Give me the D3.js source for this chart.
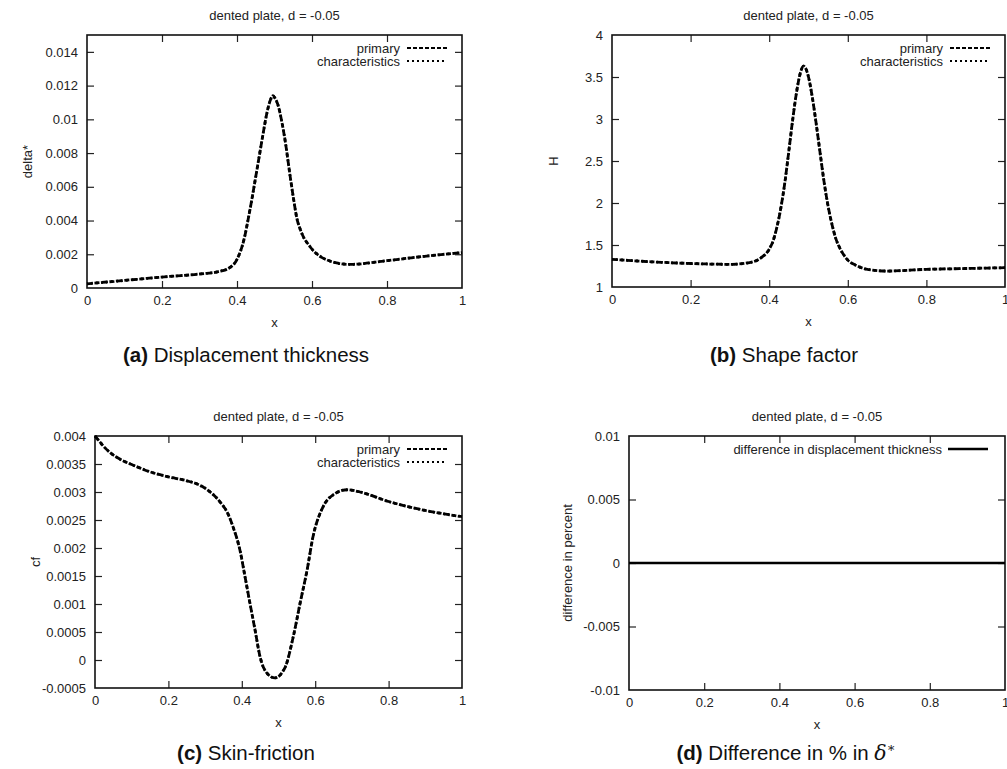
<!DOCTYPE html>
<html>
<head>
<meta charset="utf-8">
<script src="https://cdn.jsdelivr.net/npm/d3@7"></script>
<style>
  body { margin: 0; background: #fff; }
  svg { font-family: "Liberation Sans", Arial, sans-serif; }
</style>
</head>
<body>
<script>

// ---- data ----
var xTicks = [0, 0.2, 0.4, 0.6, 0.8, 1];
var deltaTicks = [0, 0.002, 0.004, 0.006, 0.008, 0.01, 0.012, 0.014];
var hTicks = [1, 1.5, 2, 2.5, 3, 3.5, 4];
var cfTicks = [-0.0005, 0, 0.0005, 0.001, 0.0015, 0.002, 0.0025, 0.003, 0.0035, 0.004];
var diffTicks = [-0.01, -0.005, 0, 0.005, 0.01];

var deltaX = [0, 0.1, 0.2, 0.3, 0.35, 0.38, 0.4, 0.42, 0.43, 0.44, 0.45, 0.46, 0.47, 0.48, 0.49, 0.496,
              0.5, 0.51, 0.52, 0.53, 0.54, 0.55, 0.56, 0.57, 0.58, 0.59, 0.6, 0.62, 0.65, 0.68, 0.7, 0.8, 0.9, 1.0];
var deltaY = [0.00025, 0.00045, 0.00065, 0.00083, 0.00097, 0.0012, 0.0017, 0.0030, 0.0041, 0.0053, 0.0066, 0.0079, 0.0092, 0.0104, 0.0112, 0.0114,
              0.0113, 0.0108, 0.0098, 0.0085, 0.0069, 0.0054, 0.0041, 0.0034, 0.0029, 0.0026, 0.0023, 0.0019, 0.00158, 0.00143, 0.0014, 0.00162, 0.00188, 0.0021];

var hX = [0, 0.1, 0.2, 0.3, 0.35, 0.38, 0.4, 0.41, 0.42, 0.43, 0.44, 0.45, 0.46, 0.47, 0.48, 0.487, 0.495,
          0.5, 0.51, 0.52, 0.53, 0.54, 0.55, 0.56, 0.57, 0.58, 0.59, 0.6, 0.62, 0.65, 0.7, 0.8, 0.9, 1.0];
var hY = [1.33, 1.30, 1.28, 1.27, 1.29, 1.35, 1.45, 1.55, 1.72, 1.95, 2.25, 2.62, 3.0, 3.33, 3.56, 3.63, 3.58,
          3.5, 3.25, 2.93, 2.58, 2.24, 1.96, 1.74, 1.57, 1.46, 1.38, 1.32, 1.26, 1.21, 1.19, 1.21, 1.22, 1.23];

var cfX = [0, 0.01, 0.02, 0.04, 0.07, 0.1, 0.15, 0.2, 0.25, 0.286, 0.31, 0.341, 0.36, 0.376, 0.395, 0.409, 0.422, 0.436,
           0.45, 0.468, 0.49, 0.518, 0.54, 0.559, 0.578, 0.594, 0.621, 0.649, 0.687, 0.722, 0.8, 0.9, 1.0];
var cfY = [0.0040, 0.00392, 0.00384, 0.00371, 0.00358, 0.00349, 0.00336, 0.00327, 0.0032, 0.00312, 0.00302, 0.00282, 0.00264, 0.00238, 0.00196, 0.00148, 0.00102, 0.00054,
           0.00005, -0.00023, -0.00032, -0.00013, 0.00041, 0.00102, 0.00161, 0.0022, 0.00273, 0.00295, 0.00304, 0.0030, 0.00283, 0.00267, 0.00256];

var diffX = [0, 0.25, 0.5, 0.75, 1];
var diffY = [0, 0, 0, 0, 0];

var titleText = "dented plate, d = -0.05";

var width = 1007, height = 769;

var svg = d3.select("body").append("svg")
    .attr("width", width)
    .attr("height", height);

var panels = [
  {box: [87, 462, 35, 288], ydom: [0, 0.015], yticks: deltaTicks, ylabel: "delta*", ylabelX: 27,
   xs: deltaX, ys: deltaY, legend: "two", tag: "(a)", caption: " Displacement thickness", capX: 246, capY: 362},
  {box: [612, 1005, 35, 287], ydom: [1, 4], yticks: hTicks, ylabel: "H", ylabelX: 553,
   xs: hX, ys: hY, legend: "two", tag: "(b)", caption: " Shape factor", capX: 784, capY: 362},
  {box: [95, 462, 436, 688], ydom: [-0.0005, 0.004], yticks: cfTicks, ylabel: "cf", ylabelX: 35,
   xs: cfX, ys: cfY, legend: "two", tag: "(c)", caption: " Skin-friction", capX: 246, capY: 760},
  {box: [629, 1005, 436, 690], ydom: [-0.01, 0.01], yticks: diffTicks, ylabel: "difference in percent", ylabelX: 567,
   xs: diffX, ys: diffY, legend: "one", tag: "(d)", caption: " Difference in % in ", capX: 786, capY: 760}
];

var fmt = function(d){ return String(+d.toFixed(6)); };
var fs = "13px";

panels.forEach(function(p) {
  var x0 = p.box[0], x1 = p.box[1], y0 = p.box[2], y1 = p.box[3];
  var x = d3.scaleLinear().domain([0, 1]).range([x0, x1]);
  var y = d3.scaleLinear().domain(p.ydom).range([y1, y0]);
  var g = svg.append("g");

  // ticks (gnuplot style, inward, mirrored)
  var bottom = g.append("g").attr("transform", "translate(0," + y1 + ")")
      .call(d3.axisBottom(x).tickValues(xTicks).tickSize(-7).tickPadding(8).tickFormat(fmt));
  var top = g.append("g").attr("transform", "translate(0," + y0 + ")")
      .call(d3.axisTop(x).tickValues(xTicks).tickSize(-7).tickFormat(""));
  var left = g.append("g").attr("transform", "translate(" + x0 + ",0)")
      .call(d3.axisLeft(y).tickValues(p.yticks).tickSize(-7).tickPadding(9).tickFormat(fmt));
  var right = g.append("g").attr("transform", "translate(" + x1 + ",0)")
      .call(d3.axisRight(y).tickValues(p.yticks).tickSize(-7).tickFormat(""));

  [bottom, top, left, right].forEach(function(a) {
    a.select(".domain").remove();
    a.selectAll("line").attr("stroke", "#222").attr("stroke-width", 1.2);
    a.selectAll("text").attr("font-size", fs).attr("fill", "#222")
      .attr("font-family", "Liberation Sans, Arial, sans-serif");
  });
  // drop the end ticks that sit on the frame
  [bottom, top].forEach(function(a){
    a.selectAll(".tick").filter(function(d){ return d === 0 || d === 1; }).select("line").remove();
  });
  [left, right].forEach(function(a){
    a.selectAll(".tick").filter(function(d){ return d === p.ydom[0] || d === p.ydom[1]; }).select("line").remove();
  });

  // frame
  g.append("rect")
    .attr("x", x0).attr("y", y0)
    .attr("width", x1 - x0).attr("height", y1 - y0)
    .attr("fill", "none").attr("stroke", "#111").attr("stroke-width", 1.6);

  // title
  g.append("text")
    .attr("x", (x0 + x1) / 2).attr("y", y0 - 15)
    .attr("text-anchor", "middle").attr("font-size", fs).attr("fill", "#222")
    .text(titleText);

  // axis labels
  g.append("text")
    .attr("x", (x0 + x1) / 2).attr("y", y1 + 39)
    .attr("text-anchor", "middle").attr("font-size", fs).attr("fill", "#222")
    .text("x");
  g.append("text")
    .attr("transform", "translate(" + p.ylabelX + "," + ((y0 + y1) / 2) + ") rotate(-90)")
    .attr("text-anchor", "middle").attr("dy", "0.35em").attr("font-size", fs).attr("fill", "#222")
    .text(p.ylabel);

  var pts = d3.range(p.xs.length).map(function(i){ return [p.xs[i], p.ys[i]]; });
  var line = d3.line()
      .x(function(d){ return x(d[0]); })
      .y(function(d){ return y(d[1]); })
      .curve(d3.curveMonotoneX);

  if (p.legend === "two") {
    // primary and characteristics lie on top of each other
    g.append("path").datum(pts).attr("d", line)
      .attr("fill", "none").attr("stroke", "#000").attr("stroke-width", 2.8)
      .attr("stroke-dasharray", "5,2.5");
    g.append("path").datum(pts).attr("d", line)
      .attr("fill", "none").attr("stroke", "#000").attr("stroke-width", 2.8)
      .attr("stroke-dasharray", "2,3").attr("stroke-dashoffset", 1);

    var leg = [{name: "primary", dash: "4,2"}, {name: "characteristics", dash: "2,3"}];
    leg.forEach(function(l, i) {
      var ly = y0 + 13 + i * 13;
      g.append("text").attr("x", x1 - 62).attr("y", ly).attr("dy", "0.35em")
        .attr("text-anchor", "end").attr("font-size", fs).attr("fill", "#222")
        .text(l.name);
      g.append("line").attr("x1", x1 - 55).attr("x2", x1 - 15).attr("y1", ly).attr("y2", ly)
        .attr("stroke", "#000").attr("stroke-width", 2).attr("stroke-dasharray", l.dash);
    });
  } else {
    g.append("path").datum(pts).attr("d", line)
      .attr("fill", "none").attr("stroke", "#000").attr("stroke-width", 2.4);
    var ly = y0 + 13;
    g.append("text").attr("x", x1 - 63).attr("y", ly).attr("dy", "0.35em")
      .attr("text-anchor", "end").attr("font-size", fs).attr("fill", "#222")
      .text("difference in displacement thickness");
    g.append("line").attr("x1", x1 - 57).attr("x2", x1 - 17).attr("y1", ly).attr("y2", ly)
      .attr("stroke", "#000").attr("stroke-width", 2.4);
  }

  // caption
  var cap = svg.append("text")
    .attr("x", p.capX).attr("y", p.capY)
    .attr("text-anchor", "middle").attr("font-size", "20.5px").attr("fill", "#111");
  cap.append("tspan").attr("font-weight", "bold").text(p.tag);
  cap.append("tspan").text(p.caption);
  if (p.legend === "one") {
    cap.append("tspan").attr("font-family", "DejaVu Serif, serif").attr("font-style", "italic").text("δ");
    cap.append("tspan").attr("font-family", "DejaVu Serif, serif").attr("font-size", "13px")
      .attr("dy", "-8").text("∗");
  }
});

</script>
</body>
</html>
